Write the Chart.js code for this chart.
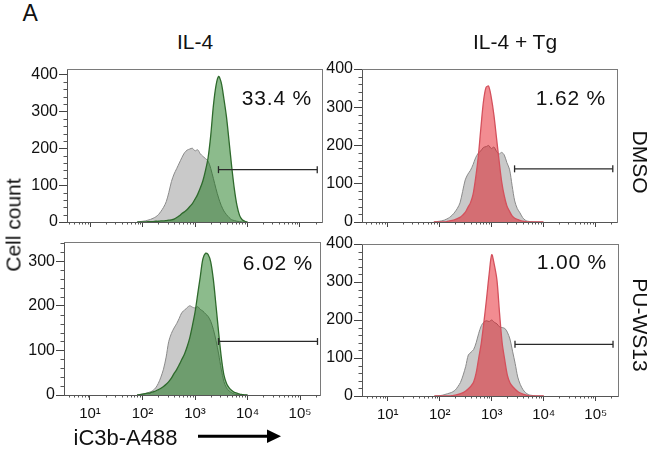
<!DOCTYPE html>
<html>
<head>
<meta charset="utf-8">
<script src="https://cdn.jsdelivr.net/npm/chart.js@4/dist/chart.umd.min.js"></script>
<style>
  html, body { margin: 0; padding: 0; background: #fff; }
  #wrap { position: relative; width: 650px; height: 449px; overflow: hidden; font-family: 'Liberation Sans', Arial, sans-serif; color: #111; }
  canvas { position: absolute; }
  .t { position: absolute; line-height: 1; white-space: nowrap; }
</style>
</head>
<body>
<div id="wrap">
  <canvas id="cTL"></canvas>
  <canvas id="cTR"></canvas>
  <canvas id="cBL"></canvas>
  <canvas id="cBR"></canvas>

  <div class="t" style="left:22.5px; top:2px; font-size:23px;">A</div>
  <div class="t" style="left:195px; top:30.5px; font-size:21px; transform:translateX(-50%);">IL-4</div>
  <div class="t" style="left:515px; top:30.5px; font-size:21px; transform:translateX(-50%);">IL-4 + Tg</div>
  <div class="t" style="left:12.5px; top:225px; font-size:21px; transform:translate(-50%,-50%) rotate(-90deg);">Cell count</div>
  <div class="t" style="left:640px; top:162px; font-size:21px; transform:translate(-50%,-50%) rotate(90deg);">DMSO</div>
  <div class="t" style="left:640px; top:325px; font-size:21px; transform:translate(-50%,-50%) rotate(90deg);">PU-WS13</div>

  <div class="t" id="pTL" style="right:338px; top:86.6px; font-size:21px; letter-spacing:0.8px;"></div>
  <div class="t" id="pTR" style="right:44px; top:86.6px; font-size:21px; letter-spacing:0.8px;"></div>
  <div class="t" id="pBL" style="right:337px; top:252.3px; font-size:21px; letter-spacing:0.8px;"></div>
  <div class="t" id="pBR" style="right:43px; top:251.3px; font-size:21px; letter-spacing:0.8px;"></div>

  <div class="t" style="left:73.5px; top:427px; font-size:22px;">iC3b-A488</div>
  <svg style="position:absolute; left:0; top:0;" width="650" height="449">
    <line x1="198" y1="436.3" x2="270" y2="436.3" stroke="#000" stroke-width="3"/>
    <polygon points="267,429.5 281,436.3 267,443" fill="#000"/>
  </svg>
</div>
<script>
// ---- DATA ----
// fluorescence intensity bins (iC3b-A488)
const bins = [79, 89, 100, 112, 126, 141, 158, 178, 200, 224, 251, 282, 316, 355, 398, 447, 501, 562, 631, 708,
  794, 891, 1000, 1122, 1259, 1413, 1585, 1778, 1995, 2239, 2512, 2818, 3162, 3548, 3981, 4467, 5012, 5623, 6310, 7079,
  7943, 8913, 10000];

// IL-4, DMSO
const il4DmsoControl = [0, 1, 2, 3, 5, 7, 10, 14, 20, 29, 40, 55, 80, 110, 130, 145, 160, 175, 188, 195,
  198, 200, 193, 196, 185, 178, 172, 165, 145, 118, 90, 65, 45, 30, 20, 12, 6, 4, 2, 1,
  0, 0, 0];
const il4DmsoStained = [0, 0, 0, 0, 1, 1, 1, 2, 2, 3, 3, 4, 5, 6, 8, 12, 17, 23, 28, 34,
  42, 50, 62, 75, 92, 112, 140, 175, 235, 315, 370, 395, 378, 335, 285, 218, 150, 90, 45, 18,
  6, 2, 0];
// IL-4 + Tg, DMSO
const tgDmsoControl = [0, 1, 2, 3, 5, 8, 12, 18, 26, 36, 50, 80, 110, 125, 135, 150, 168, 180, 186, 195,
  197, 200, 192, 196, 185, 178, 182, 175, 155, 138, 95, 55, 35, 24, 12, 5, 2, 1, 0, 0,
  0, 0, 0];
const tgDmsoStained = [0, 0, 0, 0, 0, 1, 3, 4, 6, 9, 12, 18, 25, 38, 50, 72, 115, 170, 245, 315,
  352, 355, 325, 280, 220, 160, 105, 68, 42, 28, 16, 10, 7, 4, 2, 1, 0, 0, 0, 0,
  0, 0, 0];
// IL-4, PU-WS13
const il4PuControl = [0, 1, 2, 3, 5, 7, 10, 16, 26, 40, 58, 85, 120, 138, 150, 160, 172, 185, 190, 196,
  200, 197, 195, 198, 192, 188, 182, 176, 165, 147, 122, 92, 58, 30, 16, 9, 5, 2, 1, 0,
  0, 0, 0];
const il4PuStained = [0, 1, 2, 3, 4, 5, 7, 9, 12, 15, 19, 24, 30, 38, 48, 57, 68, 80, 92, 108,
  128, 155, 185, 225, 265, 305, 318, 315, 298, 258, 200, 140, 85, 45, 26, 16, 10, 6, 4, 2,
  1, 0, 0];
// IL-4 + Tg, PU-WS13
const tgPuControl = [0, 0, 1, 2, 4, 6, 8, 11, 16, 25, 36, 55, 78, 108, 115, 122, 140, 165, 185, 195,
  198, 196, 200, 194, 190, 182, 180, 178, 168, 150, 118, 86, 50, 30, 17, 9, 4, 2, 1, 0,
  0, 0, 0];
const tgPuStained = [0, 0, 0, 0, 0, 0, 0, 1, 2, 4, 6, 9, 13, 19, 26, 36, 60, 100, 140, 195,
  255, 320, 372, 345, 305, 218, 140, 95, 55, 35, 25, 18, 12, 8, 5, 3, 1, 0, 0, 0,
  0, 0, 0];

// gate (positive region)
const gateX = [2800, 215000];
const gateY = { TL: 142, TR: 139, BL: 120, BR: 136 };
const percents = { TL: '33.4 %', TR: '1.62 %', BL: '6.02 %', BR: '1.00 %' };

// tick labels
const xMajorTicks = [10, 100, 1000, 10000, 100000];
const xTickLabels = ['10\u00B9', '10\u00B2', '10\u00B3', '10\u2074', '10\u2075'];
const xMinorTicks = [4, 5, 6, 7, 8, 9, 20, 30, 40, 50, 60, 70, 80, 90, 200, 300, 400, 500, 600, 700, 800, 900,
  2000, 3000, 4000, 5000, 6000, 7000, 8000, 9000, 20000, 30000, 40000, 50000, 60000, 70000, 80000, 90000, 200000];

// ---- CHARTS ----
Chart.defaults.font.family = "'Liberation Sans', Arial, sans-serif";
Chart.defaults.color = '#111';

const minorTicksPlugin = {
  id: 'minorTicks',
  afterDraw(chart, args, opts) {
    const { ctx, chartArea: a, scales } = chart;
    ctx.save();
    ctx.strokeStyle = opts.color;
    ctx.lineWidth = 1;
    ctx.beginPath();
    const xs = scales.x;
    for (const v of opts.x) {
      if (v < xs.min || v > xs.max) continue;
      const px = Math.round(xs.getPixelForValue(v)) + 0.5;
      ctx.moveTo(px, a.bottom);
      ctx.lineTo(px, a.bottom + opts.xLen);
    }
    const ys = scales.y;
    for (const v of opts.y) {
      if (v < ys.min || v > ys.max) continue;
      const py = Math.round(ys.getPixelForValue(v)) + 0.5;
      ctx.moveTo(a.left - opts.yLen, py);
      ctx.lineTo(a.left, py);
    }
    ctx.stroke();
    ctx.restore();
  }
};

const GREY_FILL = 'rgb(201,201,201)';
const GREY_LINE = '#8a8a8a';
const GREEN_FILL = 'rgba(0,104,0,0.45)';
const GREEN_LINE = '#2e6a2c';
const RED_FILL = 'rgba(227,0,12,0.45)';
const RED_LINE = '#d4505c';

function series(counts) { return bins.map((b, i) => ({ x: b, y: counts[i] })); }

function makePanel(id, box, xmin, xmax, ymax, control, stained, fill, line, gy, showXLabels) {
  const Y_W = 60, X_H = 28, P_T = 12, P_R = 6;
  const cv = document.getElementById(id);
  const w = box.R - box.L + Y_W + P_R;
  const h = box.B - box.T + P_T + X_H;
  cv.width = w; cv.height = h;
  cv.style.left = (box.L - Y_W) + 'px';
  cv.style.top = (box.T - P_T) + 'px';
  cv.style.width = w + 'px'; cv.style.height = h + 'px';

  const yMajor = [];
  for (let v = 0; v <= ymax; v += 100) yMajor.push(v);
  const yMinor = [];
  for (let v = 20; v <= ymax; v += 20) if (v % 100 !== 0) yMinor.push(v);

  new Chart(cv, {
    type: 'line',
    data: {
      datasets: [
        { data: gateX.map(x => ({ x, y: gy })), borderColor: '#2a2a2a', borderWidth: 1.3, fill: false,
          pointStyle: 'line', rotation: 90, pointRadius: 3.5, pointBorderWidth: 1.3, pointBorderColor: '#2a2a2a',
          tension: 0, order: 0 },
        { data: series(stained), borderColor: line, backgroundColor: fill, borderWidth: 1.3, fill: 'origin',
          pointRadius: 0, tension: 0.3, order: 1 },
        { data: series(control), borderColor: GREY_LINE, backgroundColor: GREY_FILL, borderWidth: 1, fill: 'origin',
          pointRadius: 0, tension: 0.3, order: 2 }
      ]
    },
    options: {
      responsive: false,
      animation: false,
      devicePixelRatio: 1,
      events: [],
      layout: { padding: { top: P_T, right: P_R, left: 0, bottom: 0 } },
      plugins: {
        legend: { display: false }, tooltip: { enabled: false },
        minorTicks: { x: xMinorTicks, y: yMinor, xLen: 2.5, yLen: 3.5, color: '#555' }
      },
      scales: {
        x: {
          type: 'logarithmic', position: 'bottom', min: xmin, max: xmax,
          afterBuildTicks: s => { s.ticks = xMajorTicks.map(v => ({ value: v })); },
          afterFit: s => { s.height = X_H; },
          grid: { drawOnChartArea: false, drawTicks: true, tickLength: 5, color: '#444', tickWidth: 1 },
          border: { display: true, color: '#555', width: 1 },
          ticks: {
            display: showXLabels, autoSkip: false, maxRotation: 0, padding: 5,
            font: { size: 15 }, color: '#111',
            callback: v => { const i = xMajorTicks.indexOf(v); return i >= 0 ? xTickLabels[i] : ''; }
          }
        },
        y: {
          type: 'linear', position: 'left', min: 0, max: ymax,
          afterBuildTicks: s => { s.ticks = yMajor.map(v => ({ value: v })); },
          afterFit: s => { s.width = Y_W; },
          grid: { drawOnChartArea: false, drawTicks: true, tickLength: 8, color: '#444', tickWidth: 1 },
          border: { display: true, color: '#555', width: 1 },
          ticks: { padding: 1, font: { size: 16 }, color: '#111', callback: v => String(v) }
        },
        x2: {
          type: 'linear', position: 'top', min: 0, max: 1,
          afterFit: s => { s.height = 0; },
          grid: { display: false }, ticks: { display: false },
          border: { display: true, color: '#7a7a7a', width: 1 }
        },
        y2: {
          type: 'linear', position: 'right', min: 0, max: 1,
          afterFit: s => { s.width = 0; },
          grid: { display: false }, ticks: { display: false },
          border: { display: true, color: '#7a7a7a', width: 1 }
        }
      }
    },
    plugins: [minorTicksPlugin]
  });
}

makePanel('cTL', { L: 67, T: 69, R: 322, B: 222 }, 3.6, 265000, 415, il4DmsoControl, il4DmsoStained, GREEN_FILL, GREEN_LINE, gateY.TL, false);
makePanel('cTR', { L: 362, T: 69, R: 617, B: 222 }, 3.3, 259000, 400, tgDmsoControl, tgDmsoStained, RED_FILL, RED_LINE, gateY.TR, false);
makePanel('cBL', { L: 64, T: 242, R: 320, B: 395 }, 3.2, 240000, 343, il4PuControl, il4PuStained, GREEN_FILL, GREEN_LINE, gateY.BL, true);
makePanel('cBR', { L: 362, T: 244, R: 618, B: 396 }, 3.2, 268000, 400, tgPuControl, tgPuStained, RED_FILL, RED_LINE, gateY.BR, true);

document.getElementById('pTL').textContent = percents.TL;
document.getElementById('pTR').textContent = percents.TR;
document.getElementById('pBL').textContent = percents.BL;
document.getElementById('pBR').textContent = percents.BR;
</script>
</body>
</html>
